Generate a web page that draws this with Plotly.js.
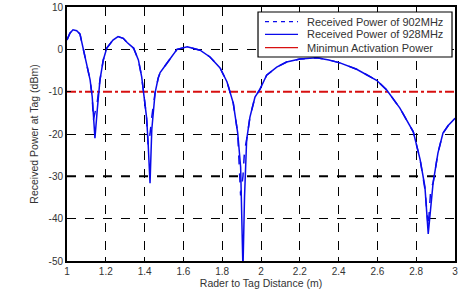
<!DOCTYPE html>
<html>
<head>
<meta charset="utf-8">
<script src="https://cdn.plot.ly/plotly-3.0.1.min.js"></script>
<style>html,body{margin:0;padding:0;background:#fff;}#chart{width:470px;height:294px;}</style>
</head>
<body>
<div id="chart"></div>
<script>
var distance = [1.00,1.015,1.031,1.05,1.067,1.082,1.10,1.119,1.13,1.136,1.144,1.156,1.17,1.187,1.205,1.237,1.263,1.29,1.31,1.343,1.368,1.385,1.397,1.41,1.418,1.428,1.437,1.454,1.47,1.48,1.515,1.567,1.62,1.686,1.737,1.789,1.825,1.857,1.88,1.895,1.907,1.915,1.926,1.943,1.969,1.995,2.029,2.081,2.132,2.20,2.287,2.35,2.407,2.493,2.596,2.648,2.716,2.785,2.82,2.845,2.862,2.875,2.887,2.912,2.938,2.965,3.00];
var power928 = [2.2,3.8,4.6,4.4,3.6,0.5,-3.3,-7.2,-11.2,-16.7,-21,-14.3,-7.2,-2.5,0.3,2.2,3.0,2.6,1.6,0.3,-2.5,-6.5,-11,-16,-22,-31.6,-19,-10.3,-6.8,-5.5,-3.3,0,0.6,-0.2,-1.8,-4.4,-7.7,-12.7,-19.8,-27.8,-52,-35,-21.4,-16,-11.3,-9.4,-6.1,-4.2,-3.0,-2.3,-2.0,-2.5,-3.2,-4.7,-7.3,-9.6,-13.9,-19.5,-26,-32.5,-43.6,-37,-31.6,-24.5,-19.8,-18,-16.3];
var power902 = [2.2,3.8,4.6,4.4,3.6,0.5,-3.3,-7.2,-11.2,-16.7,-15,-12.5,-7.2,-2.5,0.3,2.2,3.0,2.6,1.6,0.3,-2.5,-6.5,-11,-16,-22.5,-20,-16,-10.3,-6.8,-5.5,-3.3,0,0.6,-0.2,-1.8,-4.4,-7.7,-12.7,-19.8,-34.5,-30,-24,-21.4,-16,-11.3,-9.4,-6.1,-4.2,-3.0,-2.3,-2.0,-2.5,-3.2,-4.7,-7.3,-9.6,-13.9,-19.5,-26,-33,-42,-33,-31.6,-24.5,-19.8,-18,-16.3];
var activationX = [1, 3];
var activationPower = [-10, -10];
var sensitivityPower = [-30, -30];
var seriesNames = ['Received Power of 902MHz', 'Received Power of 928MHz', 'Minimun Activation Power'];
var xTicks = [1,1.2,1.4,1.6,1.8,2,2.2,2.4,2.6,2.8,3];
var xTickText = ['1','1.2','1.4','1.6','1.8','2','2.2','2.4','2.6','2.8','3'];
var yTicks = [10,0,-10,-20,-30,-40,-50];
var yTickText = ['10','0','-10','-20','-30','-40','-50'];

var blue = '#0a0aeb';
var red = '#d81010';
var traces = [
  {x: activationX, y: sensitivityPower, mode: 'lines', line: {color: '#000', width: 2, dash: 'dash'}, showlegend: false, hoverinfo: 'skip'},
  {x: activationX, y: activationPower, mode: 'lines', name: seriesNames[2], line: {color: red, width: 2, dash: 'dashdot'}, showlegend: false},
  {x: distance, y: power902, mode: 'lines', name: seriesNames[0], line: {color: blue, width: 1.5, dash: 'dash'}, showlegend: false},
  {x: distance, y: power928, mode: 'lines', name: seriesNames[1], line: {color: blue, width: 1.5}, showlegend: false}
];

// hand-built legend box (paper coordinates)
var legStyles = [
  {color: blue, width: 1.2, dash: '4px,4px'},
  {color: blue, width: 1.2, dash: 'solid'},
  {color: red, width: 1.2, dash: 'solid'}
];
var rowY = [0.9421, 0.8925, 0.8398];
var shapes = [{type: 'rect', xref: 'paper', yref: 'paper', x0: 0.4923, x1: 0.9923, y0: 0.8031, y1: 0.9803,
  fillcolor: '#fff', line: {color: '#000', width: 1.2}, layer: 'above'}];
var annotations = [];
for (var i = 0; i < seriesNames.length; i++) {
  shapes.push({type: 'line', xref: 'paper', yref: 'paper', x0: 0.5103, x1: 0.5954, y0: rowY[i], y1: rowY[i],
    line: legStyles[i], layer: 'above'});
  annotations.push({xref: 'paper', yref: 'paper', x: 0.6134, y: rowY[i], xanchor: 'left', yanchor: 'middle',
    text: seriesNames[i], showarrow: false, font: {size: 11, color: '#333'}});
}

var layout = {
  width: 470, height: 294,
  margin: {l: 67, r: 15, t: 7, b: 33},
  paper_bgcolor: '#fff', plot_bgcolor: '#fff',
  font: {family: 'Arial, Liberation Sans, sans-serif', size: 10, color: '#333'},
  showlegend: false,
  shapes: shapes,
  annotations: annotations,
  xaxis: {
    range: [1, 3], tickvals: xTicks, ticktext: xTickText,
    showgrid: true, gridcolor: '#000', griddash: 'dash', gridwidth: 1,
    zeroline: false, showline: true, linecolor: '#000', linewidth: 2, mirror: true,
    ticks: 'inside', ticklen: 4, tickcolor: '#000',
    title: {text: 'Rader to Tag Distance (m)', font: {size: 10.5, color: '#333'}, standoff: 4}
  },
  yaxis: {
    range: [-50, 10], tickvals: yTicks, ticktext: yTickText,
    showgrid: true, gridcolor: '#000', griddash: 'dash', gridwidth: 1,
    zeroline: false, showline: true, linecolor: '#000', linewidth: 2, mirror: true,
    ticks: 'inside', ticklen: 4, tickcolor: '#000',
    title: {text: 'Received Power at Tag (dBm)', font: {size: 10.5, color: '#333'}, standoff: 8}
  }
};
Plotly.newPlot('chart', traces, layout, {staticPlot: true, displayModeBar: false});
</script>
</body>
</html>
